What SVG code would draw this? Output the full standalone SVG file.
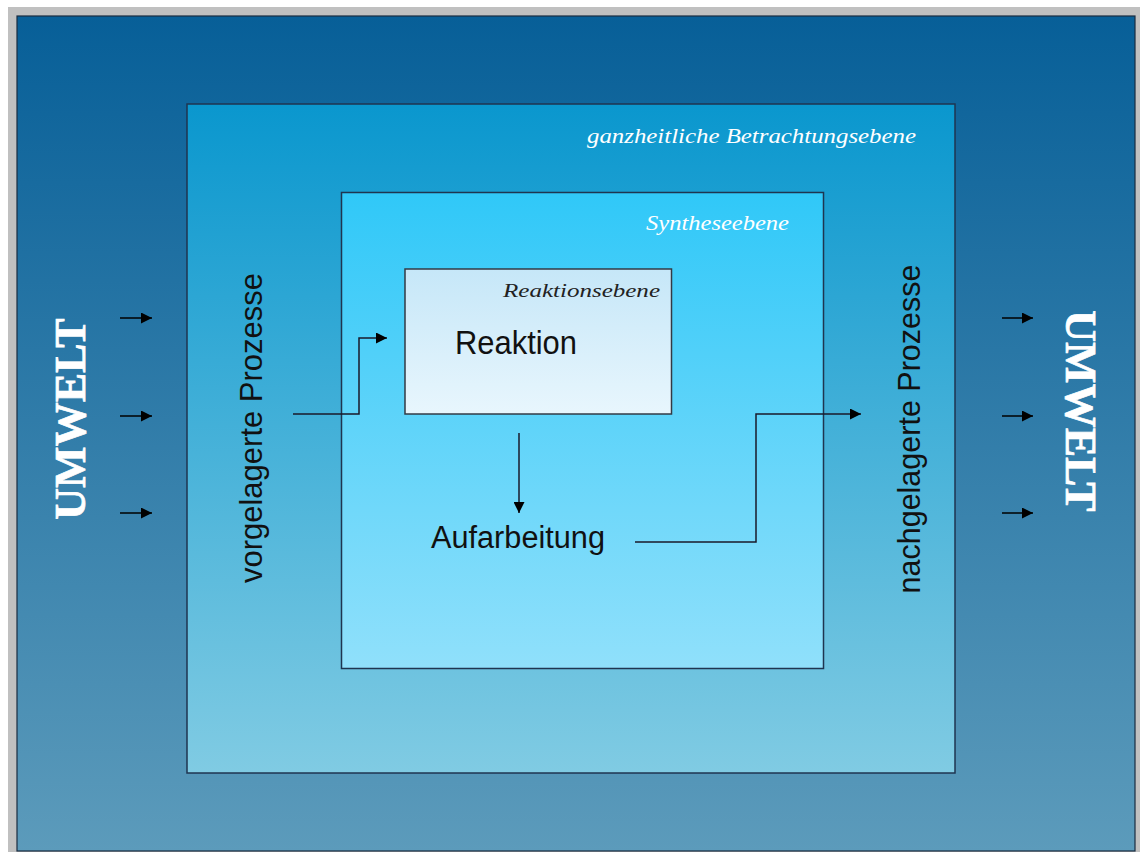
<svg xmlns="http://www.w3.org/2000/svg" width="1140" height="852" viewBox="0 0 1140 852">
  <defs>
    <linearGradient id="gBack" x1="0" y1="0" x2="0" y2="1">
      <stop offset="0" stop-color="#075f98"/>
      <stop offset="1" stop-color="#5c9bbb"/>
    </linearGradient>
    <linearGradient id="gWhole" x1="0" y1="0" x2="0" y2="1">
      <stop offset="0" stop-color="#0a97ce"/>
      <stop offset="1" stop-color="#80cbe3"/>
    </linearGradient>
    <linearGradient id="gSynth" x1="0" y1="0" x2="0" y2="1">
      <stop offset="0" stop-color="#30c8f8"/>
      <stop offset="1" stop-color="#90e0fb"/>
    </linearGradient>
    <linearGradient id="gReact" x1="0" y1="0" x2="0" y2="1">
      <stop offset="0" stop-color="#c6e7f8"/>
      <stop offset="1" stop-color="#e8f6fd"/>
    </linearGradient>
    <marker id="arrow" viewBox="0 0 10 10" refX="10" refY="5" markerWidth="13" markerHeight="11" markerUnits="userSpaceOnUse" orient="auto">
      <path d="M0,0 L10,5 L0,10 Z" fill="#000"/>
    </marker>
    <style>
      .level { stroke: #1f3550; stroke-width: 1.5; }
      .serif { font-family: 'Liberation Serif', serif; }
      .levelLabel { font-style: italic; font-size: 22px; fill: #ffffff; text-anchor: end; }
      .main { font-family: 'Liberation Sans', sans-serif; fill: #111; }
      .umwelt { font-weight: 700; font-size: 44px; fill: #ffffff; stroke: #ffffff; stroke-width: 0.7; text-anchor: middle; }
      .conn { fill: none; stroke: #1a1a2a; stroke-width: 1.5; }
      .env { fill: none; stroke: #000; stroke-width: 1.5; }
    </style>
  </defs>

  <!-- page and frame -->
  <rect x="0" y="0" width="1140" height="852" fill="#ffffff"/>
  <rect x="8" y="7" width="1132" height="845" fill="#c0c0c0"/>
  <rect x="17" y="16" width="1118" height="835" fill="url(#gBack)" stroke="#1a2c40" stroke-width="1.2"/>

  <!-- environment labels -->
  <g id="umwelt-left">
    <text class="serif umwelt" transform="translate(85,419) rotate(-90)">UMWELT</text>
  </g>
  <g id="umwelt-right">
    <text class="serif umwelt" transform="translate(1066,411) rotate(90)">UMWELT</text>
  </g>

  <!-- holistic level -->
  <g id="ganzheitlich">
    <rect class="level" x="187" y="104" width="768" height="669" fill="url(#gWhole)"/>
    <text class="serif levelLabel" x="916" y="143" textLength="329" lengthAdjust="spacingAndGlyphs">ganzheitliche Betrachtungsebene</text>
  </g>

  <!-- synthesis level -->
  <g id="synthese">
    <rect class="level" x="341.5" y="192.5" width="482" height="476" fill="url(#gSynth)"/>
    <text class="serif levelLabel" x="789" y="230" textLength="143" lengthAdjust="spacingAndGlyphs">Syntheseebene</text>
  </g>

  <!-- reaction level -->
  <g id="reaktion">
    <rect x="405" y="269" width="266.5" height="145" fill="url(#gReact)" stroke="#333a44" stroke-width="1.5"/>
    <text class="serif levelLabel" x="660" y="297" style="fill:#222;font-size:19px" textLength="157" lengthAdjust="spacingAndGlyphs">Reaktionsebene</text>
    <text class="main" x="455" y="354" font-size="33" textLength="122" lengthAdjust="spacingAndGlyphs">Reaktion</text>
  </g>

  <g id="aufarbeitung">
    <text class="main" x="431" y="548" font-size="31" textLength="174" lengthAdjust="spacingAndGlyphs">Aufarbeitung</text>
  </g>

  <g id="vorgelagert">
    <text class="main" font-size="31" text-anchor="middle" transform="translate(262,428) rotate(-90)">vorgelagerte Prozesse</text>
  </g>

  <g id="nachgelagert">
    <text class="main" font-size="30.5" text-anchor="middle" transform="translate(920,429) rotate(-90)">nachgelagerte Prozesse</text>
  </g>

  <!-- connectors -->
  <g id="connectors">
    <polyline class="conn" points="293,414 359,414 359,338 387,338" marker-end="url(#arrow)"/>
    <line class="conn" x1="519" y1="433" x2="519" y2="513" marker-end="url(#arrow)"/>
    <polyline class="conn" points="635,542 756,542 756,414 861,414" marker-end="url(#arrow)"/>

    <line class="env" x1="120" y1="318" x2="152" y2="318" marker-end="url(#arrow)"/>
    <line class="env" x1="120" y1="416" x2="152" y2="416" marker-end="url(#arrow)"/>
    <line class="env" x1="120" y1="513" x2="152" y2="513" marker-end="url(#arrow)"/>

    <line class="env" x1="1002" y1="318" x2="1033" y2="318" marker-end="url(#arrow)"/>
    <line class="env" x1="1002" y1="416" x2="1033" y2="416" marker-end="url(#arrow)"/>
    <line class="env" x1="1002" y1="513" x2="1033" y2="513" marker-end="url(#arrow)"/>
  </g>
</svg>
